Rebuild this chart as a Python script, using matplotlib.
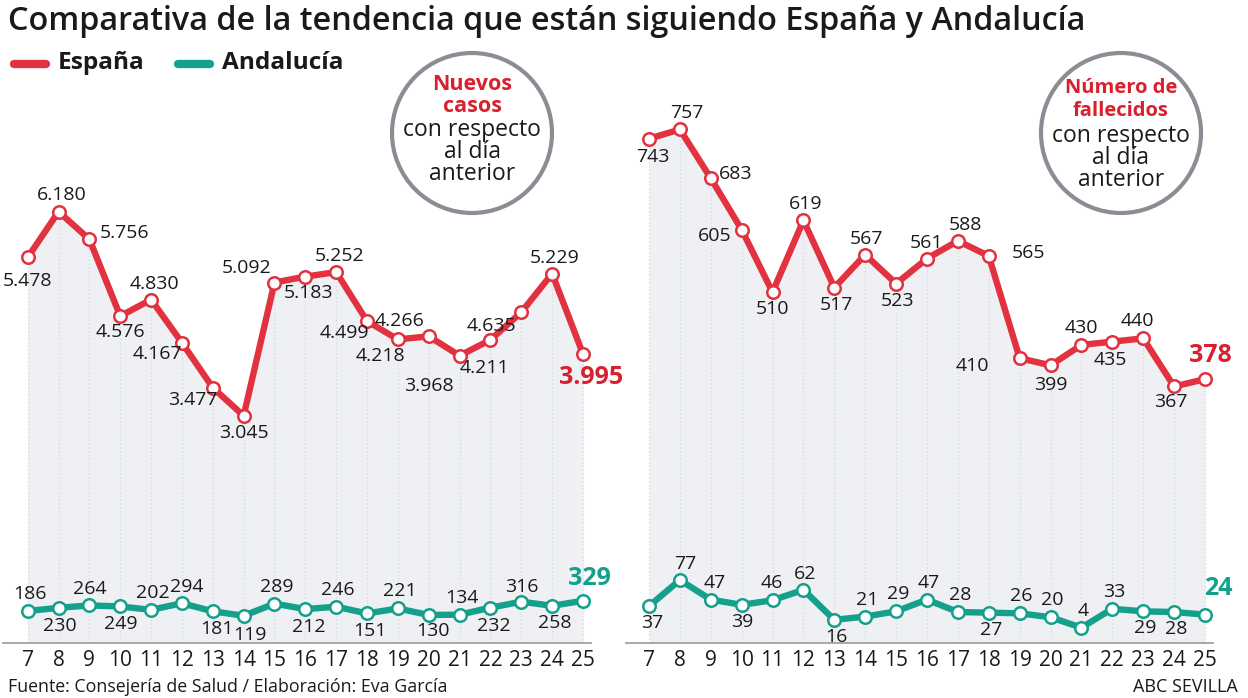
import matplotlib
matplotlib.use('Agg')
import matplotlib.pyplot as plt
from matplotlib.patches import Circle

# ---------------- data ----------------
days = list(range(7, 26))
esp_casos = [5478, 6180, 5756, 4576, 4830, 4167, 3477, 3045, 5092, 5183,
             5252, 4499, 4218, 4266, 3968, 4211, 4635, 5229, 3995]
and_casos = [186, 230, 264, 249, 202, 294, 181, 119, 289, 212,
             246, 151, 221, 130, 134, 232, 316, 258, 329]
esp_fall = [743, 757, 683, 605, 510, 619, 517, 567, 523, 561,
            588, 565, 410, 399, 430, 435, 440, 367, 378]
and_fall = [37, 77, 47, 39, 46, 62, 16, 21, 29, 47,
            28, 27, 26, 20, 4, 33, 29, 28, 24]

title = "Comparativa de la tendencia que están siguiendo España y Andalucía"
source = "Fuente: Consejería de Salud / Elaboración: Eva García"
credit = "ABC SEVILLA"

# ---------------- style ----------------
FONT = ['Open Sans', 'DejaVu Sans']
plt.rcParams['font.family'] = FONT
RED = '#e2313f'
RED_TXT = '#d8202e'
TEAL = '#14a08a'
FILL = '#eef0f4'
DOT = '#d3d7df'
BASE = '#9a9a9a'
W, H = 1248, 698

fig = plt.figure(figsize=(W / 100, H / 100), dpi=100)
fig.patch.set_facecolor('white')

# label offsets in pixels (dx right, dy down)
off_esp_casos = [(0, 24), (3, -17), (35, -6), (0, 16), (3, -16), (-25, 11), (-20, 12),
                 (0, 17), (-28, -15), (3, 16), (3, -16), (-23, 12), (-17, 17), (-29, -15),
                 (-31, 30), (-6, 28), (-30, 14), (2, -16), (8, 24)]
off_and_casos = [(2, -17), (1, 18), (0, -16), (0, 18), (2, -17), (5, -16), (4, 18),
                 (6, 19), (2, -17), (3, 18), (2, -17), (3, 18), (2, -17), (4, 16),
                 (2, -17), (3, 18), (1, -15), (3, 17), (6, -22)]
off_esp_fall = [(4, 18), (7, -16), (25, -4), (-27, 6), (0, 17), (2, -16), (2, 17),
                (1, -16), (1, 17), (0, -16), (8, -16), (40, -3), (-47, 8), (0, 20),
                (0, -17), (-2, 18), (-6, -17), (-3, 16), (5, -24)]
off_and_fall = [(3, 17), (5, -16), (4, -17), (1, 17), (-1, -17), (2, -16), (2, 17),
                (2, -17), (2, -17), (2, -17), (2, -17), (2, 17), (2, -17), (2, -17),
                (2, -17), (2, -17), (2, 17), (2, 17), (13, -26)]


def fmt(v):
    return f"{v:,}".replace(',', '.')


def make_panel(x0px, x1px, xlim, esp, andl, ylim_e, ylim_a, off_e, off_a):
    ybot, ytop = 642.7, 100.0
    rect = [x0px / W, (H - ybot) / H, (x1px - x0px) / W, (ybot - ytop) / H]
    ax = fig.add_axes(rect)
    ax.set_xlim(*xlim)
    ax.set_ylim(*ylim_e)
    ax.patch.set_visible(False)
    for s in ['top', 'left', 'right']:
        ax.spines[s].set_visible(False)
    ax.spines['bottom'].set_color(BASE)
    ax.spines['bottom'].set_linewidth(1.2)
    ax.set_yticks([])
    ax.set_xticks(days)
    ax.set_xticklabels([str(d) for d in days])
    ax.tick_params(axis='x', length=0, pad=5, labelsize=15, colors='#1a1a1a')

    ax.fill_between(days, esp, ylim_e[0], color=FILL, lw=0, zorder=0)
    ax.vlines(days, ylim_e[0], esp, colors=DOT, linestyles=(0, (1, 2)), lw=0.9, zorder=0.5)
    ax.plot(days, esp, color=RED, lw=4.6, solid_joinstyle='miter', zorder=3,
            marker='o', ms=9, mfc='white', mec=RED, mew=1.8, clip_on=False)

    ax2 = ax.twinx()
    ax2.set_ylim(*ylim_a)
    ax2.set_xlim(*xlim)
    ax2.axis('off')
    ax2.plot(days, andl, color=TEAL, lw=4.6, zorder=3,
             marker='o', ms=9, mfc='white', mec=TEAL, mew=1.8, clip_on=False)

    n = len(days)
    for i, (d, v) in enumerate(zip(days, esp)):
        dx, dy = off_e[i]
        last = i == n - 1
        ax.annotate(fmt(v), (d, v), xytext=(dx, -dy), textcoords='offset pixels',
                    ha='center', va='center',
                    fontsize=18 if last else 14,
                    fontweight='bold' if last else 'normal',
                    color=RED_TXT if last else '#1a1a1a', zorder=5,
                    annotation_clip=False)
    for i, (d, v) in enumerate(zip(days, andl)):
        dx, dy = off_a[i]
        last = i == n - 1
        ax2.annotate(fmt(v), (d, v), xytext=(dx, -dy), textcoords='offset pixels',
                     ha='center', va='center',
                     fontsize=18 if last else 14,
                     fontweight='bold' if last else 'normal',
                     color=TEAL if last else '#1a1a1a', zorder=5,
                     annotation_clip=False)
    return ax, ax2


make_panel(3, 591, (6.199, 25.26), esp_casos, and_casos,
           (-440.9, 7895.5), (-258.5, 7343.0), off_esp_casos, off_and_casos)
make_panel(626, 1213, (6.256, 25.26), esp_fall, and_fall,
           (-21.9, 801.7), (-19.0, 812.1), off_esp_fall, off_and_fall)

# ---------------- overlay (titles, legend, bubbles) ----------------
ov = fig.add_axes([0, 0, 1, 1])
ov.set_xlim(0, W)
ov.set_ylim(H, 0)
ov.axis('off')
ov.patch.set_visible(False)

ov.text(8, 21, title, fontsize=23.3, fontweight='semibold', color='#1a1a1a',
        ha='left', va='center')

ov.plot([14, 46], [64, 64], color=RED, lw=6, solid_capstyle='round')
ov.text(58, 63, "España", fontsize=17.6, fontweight='bold', color='#1a1a1a', ha='left', va='center')
ov.plot([178, 210], [64, 64], color=TEAL, lw=6, solid_capstyle='round')
ov.text(222, 63, "Andalucía", fontsize=17.6, fontweight='bold', color='#1a1a1a', ha='left', va='center')


def bubble(cx, cy, red_lines, black_lines, red_y, black_y, red_size):
    ov.add_patch(Circle((cx, cy), 80, facecolor='white', edgecolor='#8a8d94', lw=3, zorder=6))
    for t, y in zip(red_lines, red_y):
        ov.text(cx, y, t, fontsize=red_size, fontweight='bold', color=RED_TXT, ha='center',
                va='center', zorder=7)
    for t, y in zip(black_lines, black_y):
        ov.text(cx, y, t, fontsize=16.5, color='#1a1a1a', ha='center', va='center', zorder=7)


bubble(472, 133, ["Nuevos", "casos"], ["con respecto", "al día", "anterior"],
       [85, 106], [130, 152, 174], 15.5)
bubble(1121, 133, ["Número de", "fallecidos"], ["con respecto", "al día", "anterior"],
       [88, 111], [136, 158, 180], 14.5)

ov.text(8, 687, source, fontsize=12.8, color='#1a1a1a', ha='left', va='center')
ov.text(1238, 687, credit, fontsize=13, color='#1a1a1a', ha='right', va='center')

fig.savefig('out.png', dpi=100, facecolor='white')
